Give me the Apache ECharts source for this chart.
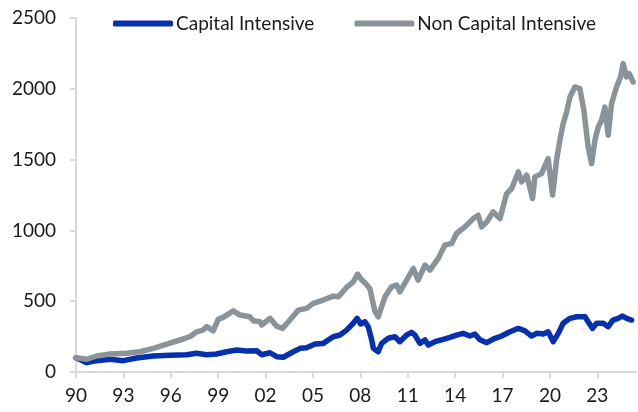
<!DOCTYPE html>
<html>
<head>
<meta charset="utf-8">
<script src="https://cdn.jsdelivr.net/npm/echarts@6/dist/echarts.min.js"></script>
<style>
  html, body { margin: 0; padding: 0; background: #fff; }
  #chart { width: 638px; height: 412px; }
</style>
</head>
<body>
<div id="chart"></div>
<script>
// decimal years
const capYears = [1990.0, 1990.68, 1991.31, 1992.15, 1992.99, 1993.84, 1994.89, 1995.95, 1997.0, 1997.64,
  1998.27, 1998.9, 1999.54, 2000.17, 2000.8, 2001.44, 2001.75, 2002.28, 2002.7, 2003.12,
  2003.75, 2004.18, 2004.6, 2005.13, 2005.65, 2006.28, 2006.71, 2007.13, 2007.55, 2007.8,
  2008.02, 2008.29, 2008.5, 2008.72, 2008.82, 2009.13, 2009.35, 2009.77, 2010.19, 2010.5,
  2010.93, 2011.25, 2011.46, 2011.77, 2012.09, 2012.3, 2012.72, 2013.25, 2013.67, 2014.09,
  2014.51, 2014.94, 2015.25, 2015.57, 2016.0, 2016.52, 2016.94, 2017.47, 2018.0, 2018.42,
  2018.84, 2019.16, 2019.58, 2019.89, 2020.21, 2020.53, 2020.84, 2021.27, 2021.69, 2022.22,
  2022.42, 2022.7, 2022.96, 2023.38, 2023.69, 2023.99, 2024.32, 2024.6, 2024.85, 2025.17]
const capValues = [100, 66, 80, 90, 80, 99, 113, 118, 122, 132,
  122, 127, 143, 155, 148, 150, 122, 136, 108, 104,
  143, 167, 171, 197, 202, 249, 261, 296, 344, 379,
  339, 355, 320, 226, 167, 143, 202, 238, 249, 214,
  261, 280, 261, 202, 226, 190, 214, 231, 245, 261,
  273, 254, 268, 228, 207, 238, 254, 284, 308, 291,
  254, 273, 268, 284, 214, 273, 344, 379, 390, 390,
  355, 308, 344, 344, 320, 367, 379, 395, 379, 367]

const nonCapYears = [1990.0, 1990.68, 1991.31, 1992.15, 1993.2, 1994.05, 1994.9, 1995.74, 1996.58, 1997.2,
  1997.64, 1998.04, 1998.27, 1998.69, 1999.0, 1999.32, 1999.96, 2000.38, 2001.0, 2001.22,
  2001.65, 2001.75, 2002.28, 2002.7, 2003.08, 2003.54, 2004.07, 2004.6, 2005.02, 2005.65,
  2006.28, 2006.6, 2007.13, 2007.55, 2007.83, 2008.08, 2008.29, 2008.6, 2008.92, 2009.13,
  2009.56, 2009.98, 2010.3, 2010.5, 2010.93, 2011.35, 2011.66, 2012.09, 2012.41, 2012.93,
  2013.35, 2013.78, 2014.09, 2014.62, 2015.15, 2015.46, 2015.68, 2016.0, 2016.41, 2016.84,
  2017.26, 2017.58, 2018.0, 2018.21, 2018.53, 2018.9, 2019.05, 2019.47, 2019.89, 2020.17,
  2020.42, 2020.63, 2020.84, 2021.06, 2021.27, 2021.58, 2021.9, 2022.15, 2022.42, 2022.64,
  2022.85, 2023.06, 2023.27, 2023.48, 2023.69, 2023.9, 2024.22, 2024.47, 2024.64, 2024.85,
  2025.02, 2025.27]
const nonCapValues = [100, 90, 113, 127, 132, 143, 167, 197, 226, 249,
  284, 296, 320, 291, 372, 386, 432, 402, 390, 362,
  355, 332, 379, 324, 308, 367, 437, 449, 485, 508,
  536, 531, 597, 637, 691, 650, 630, 590, 430, 390,
  531, 602, 614, 566, 649, 731, 649, 755, 720, 802,
  896, 908, 978, 1025, 1084, 1107, 1025, 1060, 1131, 1084,
  1260, 1296, 1413, 1342, 1390, 1225, 1378, 1401, 1507, 1249,
  1495, 1637, 1754, 1836, 1942, 2013, 2001, 1848, 1589, 1472,
  1637, 1730, 1778, 1871, 1672, 1895, 2013, 2083, 2178, 2083,
  2107, 2048]

const tickYears = [1990, 1993, 1996, 1999, 2002, 2005, 2008, 2011, 2014, 2017, 2020, 2023]
const tickLabels = ['90', '93', '96', '99', '02', '05', '08', '11', '14', '17', '20', '23']

const font = 'Lato, "Liberation Sans", sans-serif'
const axisGray = '#d9d9d9'
const textColor = '#1a1a1a'

const chart = echarts.init(document.getElementById('chart'))

chart.setOption({
  animation: false,
  grid: { left: 76, right: 2, top: 18, bottom: 40 },
  legend: {
    data: ['Capital Intensive', 'Non Capital Intensive'],
    left: 108,
    top: 9,
    icon: 'roundRect',
    itemWidth: 60,
    itemHeight: 6,
    itemGap: 40,
    textStyle: { fontFamily: font, fontSize: 19, color: textColor, padding: [0, 0, 0, -2] }
  },
  xAxis: {
    type: 'value',
    min: 1990,
    max: 2025.45,
    splitLine: { show: false },
    axisLine: { lineStyle: { color: axisGray, width: 2 } },
    axisTick: { show: true, length: 6, customValues: tickYears, lineStyle: { color: axisGray, width: 2 } },
    axisLabel: {
      customValues: tickYears,
      margin: 14,
      fontFamily: font,
      fontSize: 19,
      color: textColor,
      formatter: v => tickLabels[tickYears.indexOf(v)]
    }
  },
  yAxis: {
    type: 'value',
    min: 0,
    max: 2500,
    interval: 500,
    splitLine: { show: false },
    axisLine: { show: true, lineStyle: { color: axisGray, width: 2 } },
    axisTick: { show: true, length: 6, lineStyle: { color: axisGray, width: 2 } },
    axisLabel: { margin: 20, fontFamily: font, fontSize: 19, color: textColor, formatter: v => String(v) }
  },
  series: [
    {
      name: 'Capital Intensive',
      type: 'line',
      data: capYears.map((y, i) => [y, capValues[i]]),
      showSymbol: false,
      symbol: 'none',
      color: '#0630ad',
      lineStyle: { width: 5.5, cap: 'round', join: 'round' },
      z: 2
    },
    {
      name: 'Non Capital Intensive',
      type: 'line',
      data: nonCapYears.map((y, i) => [y, nonCapValues[i]]),
      showSymbol: false,
      symbol: 'none',
      color: '#8a9399',
      lineStyle: { width: 5.5, cap: 'round', join: 'round' },
      z: 3
    }
  ]
})
</script>
</body>
</html>
